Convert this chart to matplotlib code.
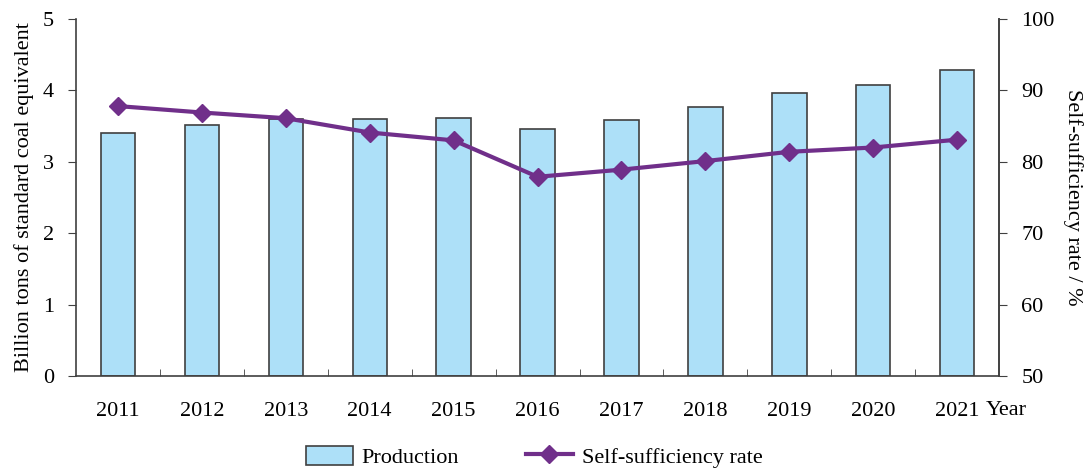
import matplotlib
matplotlib.use("Agg")
import matplotlib.pyplot as plt
import numpy as np
from matplotlib.lines import Line2D
from matplotlib.patches import Patch

years = ["2011", "2012", "2013", "2014", "2015", "2016", "2017", "2018", "2019", "2020", "2021"]
production = [3.40, 3.51, 3.60, 3.60, 3.62, 3.46, 3.59, 3.77, 3.97, 4.08, 4.28]
self_sufficiency = [87.8, 86.9, 86.1, 84.1, 83.0, 77.9, 78.9, 80.1, 81.4, 82.0, 83.1]

plt.rcParams["font.family"] = ["Liberation Serif", "DejaVu Serif"]
plt.rcParams["font.size"] = 16

bar_color = "#ade0f8"
edge_color = "#404040"
line_color = "#702f8a"

fig = plt.figure(figsize=(10.86, 4.71), dpi=100)
ax = fig.add_axes([0.070, 0.2017, 0.850, 0.758])
x = np.arange(len(years))
ax.bar(x, production, width=0.41, color=bar_color, edgecolor=edge_color, linewidth=1.2, zorder=2)
ax.set_xlim(-0.5, len(years) - 0.5)
ax.set_ylim(0, 5)
ax.set_yticks(range(0, 6))
ax.set_xticks(x)
ax.set_xticklabels(years)
ax.set_xticks(np.arange(-0.5, len(years) + 0.5, 1.0)[1:-1], minor=True)
ax.tick_params(axis="x", which="major", length=0, pad=19)
ax.tick_params(axis="x", which="minor", direction="in", length=5, color=edge_color)
ax.tick_params(axis="y", direction="out", length=6, color=edge_color, pad=10)
ax.spines["top"].set_visible(False)
for s in ["left", "bottom", "right"]:
    ax.spines[s].set_color(edge_color)
    ax.spines[s].set_linewidth(1.2)
ax.set_ylabel("Billion tons of standard coal equivalent", labelpad=6)

ax2 = ax.twinx()
ax2.plot(x, self_sufficiency, color=line_color, linewidth=3, marker="D", markersize=9, zorder=3)
ax2.set_ylim(50, 100)
ax2.set_yticks(range(50, 101, 10))
ax2.tick_params(axis="y", direction="out", length=6, color=edge_color, pad=10)
ax2.spines["top"].set_visible(False)
ax2.spines["left"].set_visible(False)
ax2.spines["bottom"].set_visible(False)
ax2.spines["right"].set_color(edge_color)
ax2.spines["right"].set_linewidth(1.2)
ax2.set_ylabel("Self-sufficiency rate / %", rotation=270, labelpad=20)

ax.text(0.986, -0.096, "Year", transform=ax.transAxes, ha="left", va="center")

handles = [
    Patch(facecolor=bar_color, edgecolor=edge_color, linewidth=1.2, label="Production"),
    Line2D([0], [0], color=line_color, linewidth=3, marker="D", markersize=9, label="Self-sufficiency rate"),
]
fig.legend(handles=handles, loc="center", bbox_to_anchor=(0.492, 0.03), ncol=2, frameon=False,
           handlelength=2.1, handleheight=1.0, columnspacing=3.0, handletextpad=0.4)

fig.savefig("out.png", dpi=100)
